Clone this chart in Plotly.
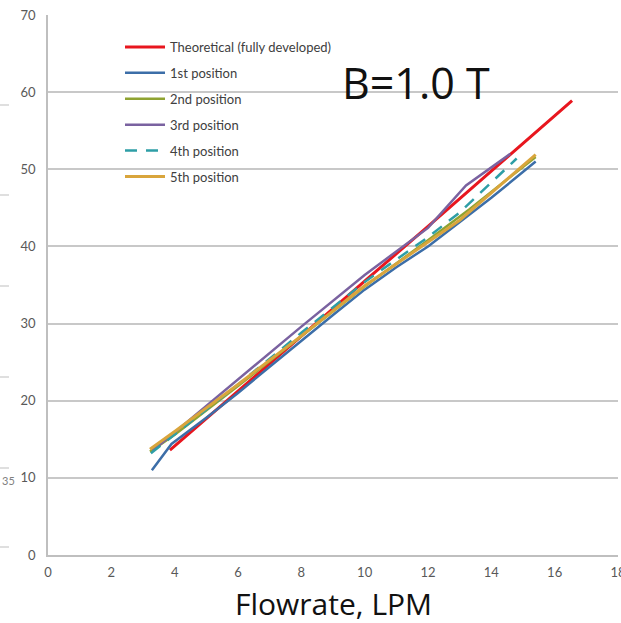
import plotly.graph_objects as go

# ---- data ----
theo_x = [3.85, 6.0, 8.0, 10.0, 12.0, 14.0, 16.55]
theo_y = [13.6, 21.3, 28.4, 35.5, 42.6, 49.8, 58.9]

p1_x = [3.28, 3.9, 5.0, 6.0, 7.0, 8.0, 9.0, 10.0, 11.0, 12.0, 13.0, 14.0, 15.4]
p1_y = [11.0, 14.4, 17.8, 21.0, 24.4, 27.8, 31.1, 34.4, 37.3, 40.0, 43.2, 46.3, 51.0]

p2_x = [3.22, 4.0, 6.0, 8.0, 10.0, 12.0, 13.3, 15.4]
p2_y = [13.4, 15.6, 21.9, 28.3, 34.8, 40.8, 44.8, 51.6]

p3_x = [3.3, 4.0, 6.0, 8.0, 10.0, 11.0, 12.0, 13.2, 14.6]
p3_y = [13.5, 15.9, 22.7, 29.6, 36.3, 39.3, 42.4, 47.9, 52.0]

p4_x = [3.25, 4.0, 6.0, 8.0, 10.0, 12.0, 13.0, 14.8]
p4_y = [13.2, 15.6, 22.1, 28.8, 35.4, 41.2, 44.4, 51.4]

p5_x = [3.22, 4.0, 6.0, 8.0, 10.0, 12.0, 13.0, 15.4]
p5_y = [13.7, 16.0, 22.1, 28.4, 34.9, 40.5, 43.4, 51.9]

x_ticks = [0, 2, 4, 6, 8, 10, 12, 14, 16, 18]
y_ticks = [0, 10, 20, 30, 40, 50, 60, 70]

# side fragment (neighbouring chart cut at the left edge)
frag_tick_y = [105, 195, 286, 377, 468, 547]

fig = go.Figure()

series = [
    ("Theoretical (fully developed)", theo_x, theo_y, "#E8161E", 3, "solid"),
    ("1st position", p1_x, p1_y, "#3C6EA8", 2.5, "solid"),
    ("2nd position", p2_x, p2_y, "#8FA331", 2.5, "solid"),
    ("3rd position", p3_x, p3_y, "#7A62A0", 2.5, "solid"),
    ("4th position", p4_x, p4_y, "#2E9EA6", 2.5, "12px,9px"),
    ("5th position", p5_x, p5_y, "#D9A53C", 3, "solid"),
]
for i, (name, xs, ys, col, w, dash) in enumerate(series):
    fig.add_trace(go.Scatter(
        x=xs, y=ys, mode="lines", name=name,
        line=dict(color=col, width=w, dash=dash),
        legendgroup=name, legendrank=i + 1,
    ))

W, H = 621, 623
ml, mr, mt, mb = 48, 3, 15, 68
PW, PH = W - ml - mr, H - mt - mb


def px_x(p):
    return (p - ml) / PW


def px_y(p):
    return (H - mb - p) / PH


fig.update_layout(
    width=W, height=H,
    margin=dict(l=ml, r=mr, t=mt, b=mb, pad=0, autoexpand=False),
    paper_bgcolor="white", plot_bgcolor="white",
    font=dict(family="Lato, Open Sans, sans-serif", color="#595959", size=12),
    showlegend=True,
    legend=dict(
        x=px_x(120), y=px_y(32), xanchor="left", yanchor="top",
        bgcolor="rgba(255,255,255,0)", borderwidth=0,
        font=dict(family="Lato, Open Sans, sans-serif", size=13, color="#404040"),
        tracegroupgap=6, itemwidth=40,
    ),
    xaxis=dict(
        range=[0, 18], tickvals=x_ticks, ticktext=[str(v) for v in x_ticks],
        showgrid=False, zeroline=False, showline=True, linecolor="#BFBFBF", linewidth=1.5,
        ticks="", ticklabelstandoff=5, automargin=False, ticklabeloverflow="allow",
        tickfont=dict(size=13, color="#595959"),
    ),
    yaxis=dict(
        range=[0, 70], tickvals=y_ticks, ticktext=[str(v) for v in y_ticks],
        showgrid=True, gridcolor="#C8C8C8", gridwidth=1.5,
        zeroline=False, showline=True, linecolor="#BFBFBF", linewidth=1.5,
        ticks="", ticklabelstandoff=8, automargin=False, ticklabeloverflow="allow",
        tickfont=dict(size=13, color="#595959"),
    ),
    annotations=[
        dict(text="B=1.0 T", x=px_x(340), y=px_y(82),
             xref="paper", yref="paper", xanchor="left", yanchor="middle", showarrow=False,
             font=dict(family="Open Sans, sans-serif", size=43, color="#111111")),
        dict(text="Flowrate, LPM", x=px_x(333), y=px_y(603),
             xref="paper", yref="paper", xanchor="center", yanchor="middle", showarrow=False,
             font=dict(family="Open Sans, sans-serif", size=30, color="#111111")),
        dict(text="35", x=px_x(0), y=px_y(480),
             xref="paper", yref="paper", xanchor="left", yanchor="middle", showarrow=False,
             font=dict(size=11, color="#7F7F7F")),
    ],
)

for ty in frag_tick_y:
    fig.add_shape(type="line", xref="paper", yref="paper",
                  x0=px_x(0), x1=px_x(9),
                  y0=px_y(ty), y1=px_y(ty),
                  line=dict(color="#BFBFBF", width=1))

fig.write_html(
    "out.html",
    config={"displayModeBar": False},
    post_script="document.body.style.margin='0';document.body.style.padding='0';document.body.style.overflow='hidden';",
)
